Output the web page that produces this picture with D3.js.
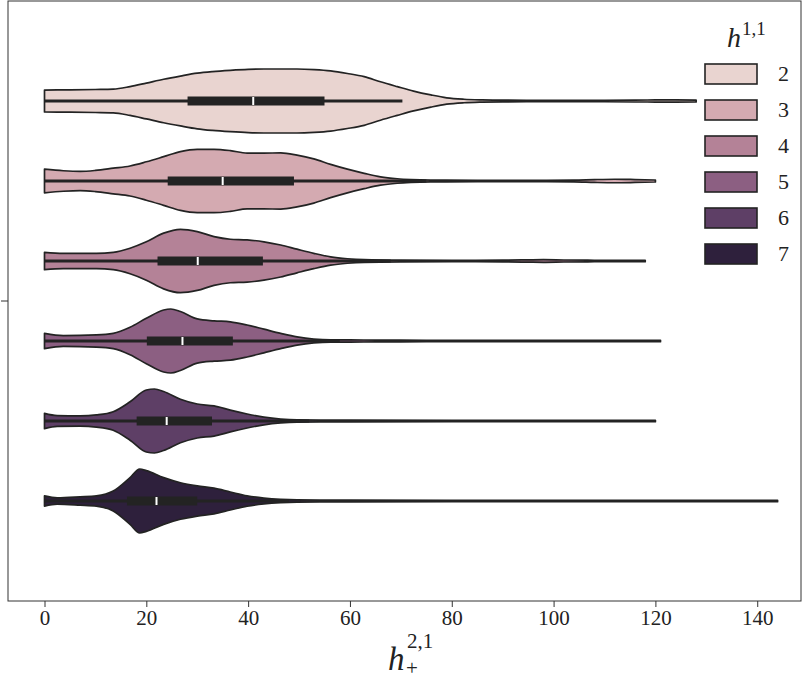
<!DOCTYPE html>
<html><head><meta charset="utf-8">
<script src="https://cdn.jsdelivr.net/npm/d3@7"></script>
<style>body{margin:0;background:#fff}svg{display:block}</style>
</head><body><svg id="c" width="802" height="679"></svg>
<script>
// ---- data ----
const hues = ["2","3","4","5","6","7"];
const colors = ["#e9d4d0","#d4aab1","#b48297","#8c5f82","#5e3f66","#2e203c"];
const xTicks = [0,20,40,60,80,100,120,140];
// density profiles: [h21 value, relative density (peak = 1)]
const dens2 = [[0,.34],[5,.35],[10,.36],[13.5,.37],[16.8,.45],[20,.56],[23.4,.68],[26.7,.78],[30,.87],[33,.92],[36.5,.96],[40,.99],[43.1,1.0],[46.5,1.0],[49.6,1.0],[53,.98],[56.2,.94],[59.5,.86],[62.8,.76],[66,.6],[69.3,.45],[72.5,.31],[75.9,.19],[79,.1],[82.4,.055],[86,.035],[90,.025],[100,.022],[110,.022],[116,.026],[120,.034],[124,.036],[128,.03]];
const dens3 = [[0,.37],[3.7,.32],[7,.30],[10,.33],[13.5,.40],[16.8,.47],[20,.60],[23.4,.76],[26.7,.92],[30,.99],[33.3,.99],[36.5,.95],[39.8,.87],[43.1,.87],[46.4,.88],[49.6,.81],[52.9,.69],[56.2,.52],[59.5,.37],[62.8,.24],[66,.13],[69.3,.07],[72,.045],[75.9,.03],[85,.024],[95,.022],[104,.028],[108,.045],[112,.055],[116,.045],[120,.03]];
const dens4 = [[0,.27],[3.7,.24],[10.2,.24],[13.5,.27],[16.8,.40],[20,.60],[23.4,.87],[26.7,.99],[30,.92],[33.3,.76],[36.5,.68],[39.8,.66],[43.1,.60],[46.4,.50],[49.6,.37],[52.9,.24],[56.2,.13],[59.5,.07],[62.8,.04],[70,.026],[80,.022],[90,.025],[95,.035],[98,.04],[102,.032],[108,.024],[118,.024]];
const dens5 = [[0,.24],[3.7,.17],[10.2,.19],[13.5,.24],[16.8,.43],[20,.71],[23.4,.97],[24.8,1.0],[26.7,.92],[30,.69],[33.3,.63],[36.5,.60],[39.8,.50],[43.1,.37],[46.4,.24],[49.6,.13],[52.9,.06],[56.2,.035],[60,.035],[65,.027],[75,.024],[100,.022],[121,.022]];
const dens6 = [[0,.24],[2.5,.17],[7,.16],[10.2,.19],[13.5,.29],[16.8,.60],[20,.97],[21.6,1.0],[23.4,.92],[26.7,.68],[30,.53],[33.3,.47],[36.5,.34],[39.8,.22],[43.1,.12],[46.4,.06],[49.6,.035],[60,.026],[80,.022],[120,.022]];
const dens7 = [[0,.16],[2.5,.10],[7,.13],[10.2,.16],[13.5,.31],[16.8,.73],[18.7,1.0],[20,.95],[23.4,.73],[26.7,.57],[30,.47],[33.3,.40],[36.5,.28],[39.8,.16],[43.1,.09],[46.4,.05],[49.6,.033],[60,.025],[100,.022],[144,.022]];
const densities = [dens2,dens3,dens4,dens5,dens6,dens7];
// box stats
const q1s = [28.1,24.2,22.2,20.1,18.1,16.2];
const medians = [41,35,30.1,27.1,24,22];
const q3s = [55,49,42.9,37,32.9,30];
const whiskLo = [0,0,0,0,0,0];
const whiskHi = [70.3,75,68,58,52,48];

// ---- layout ----
const FONT = '"Liberation Serif","DejaVu Serif","Times New Roman",Times,serif';
const svg = d3.select("#c");
const L=8, R=801, T=1, B=601;
const x = d3.scaleLinear().domain([-7.17,148.6]).range([L,R]);
const y = d3.scaleLinear().domain([-0.5,0.5]).range([T,B]);
const band = d3.scaleBand().domain(hues).range([y(-0.4),y(0.4)]);
const w = d3.scaleLinear().domain([0,1]).range([0, band.bandwidth()*0.4]);
const gray = "#232323";

hues.forEach((h,i)=>{
  const c = band(h)+band.bandwidth()/2;
  const area = d3.area().x(d=>x(d[0])).y0(d=>c-w(d[1])).y1(d=>c+w(d[1])).curve(d3.curveMonotoneX);
  svg.append("path").attr("d",area(densities[i])).attr("fill",colors[i])
     .attr("stroke",gray).attr("stroke-width",1.7).attr("stroke-linejoin","round");
  svg.append("line").attr("x1",x(whiskLo[i])).attr("x2",x(whiskHi[i])).attr("y1",c).attr("y2",c)
     .attr("stroke",gray).attr("stroke-width",3);
  svg.append("rect").attr("x",x(q1s[i])).attr("width",x(q3s[i])-x(q1s[i])).attr("y",c-4.5).attr("height",9).attr("fill",gray);
  svg.append("rect").attr("x",x(medians[i])-1).attr("width",2).attr("y",c-4).attr("height",8).attr("fill","#fff");
});

// frame
svg.append("rect").attr("x",L).attr("y",T).attr("width",R-L).attr("height",B-T).attr("fill","none").attr("stroke","#333").attr("stroke-width",1);

// x axis
const xa = svg.append("g").attr("transform",`translate(0,${B})`)
  .call(d3.axisBottom(x).tickValues(xTicks).tickSize(6).tickPadding(3).tickFormat(d3.format("d")));
xa.attr("font-family",FONT);
xa.select(".domain").remove();
xa.selectAll("line").attr("stroke","#333");
xa.selectAll("text").attr("font-size",21).attr("font-family",FONT).attr("fill","#222");
svg.append("line").attr("x1",L-7).attr("x2",L).attr("y1",y(0)).attr("y2",y(0)).attr("stroke","#333");

// x label h_+^{2,1}
const xl = svg.append("g").attr("transform","translate(388,670)").attr("font-family",FONT).attr("fill","#222");
xl.append("text").attr("font-size",33).attr("font-style","italic").attr("font-family",FONT).text("h");
xl.append("text").attr("x",19).attr("y",-22).attr("font-size",21).attr("font-family",FONT).text("2,1");
xl.append("text").attr("x",18).attr("y",5).attr("font-size",21).attr("font-family",FONT).text("+");

// legend
const lg = svg.append("g").attr("font-family",FONT).attr("fill","#222");
const lt = lg.append("g").attr("transform","translate(727,47)");
lt.append("text").attr("font-size",28).attr("font-style","italic").attr("font-family",FONT).text("h");
lt.append("text").attr("x",15).attr("y",-12).attr("font-size",19).attr("font-family",FONT).text("1,1");
hues.forEach((h,i)=>{
  const cy = 74 + i*36;
  lg.append("rect").attr("x",705).attr("y",cy-10).attr("width",52).attr("height",20)
    .attr("fill",colors[i]).attr("stroke",gray).attr("stroke-width",1.6);
  lg.append("text").attr("x",778).attr("y",cy+7).attr("font-size",22).attr("font-family",FONT).text(h);
});
</script></body></html>
